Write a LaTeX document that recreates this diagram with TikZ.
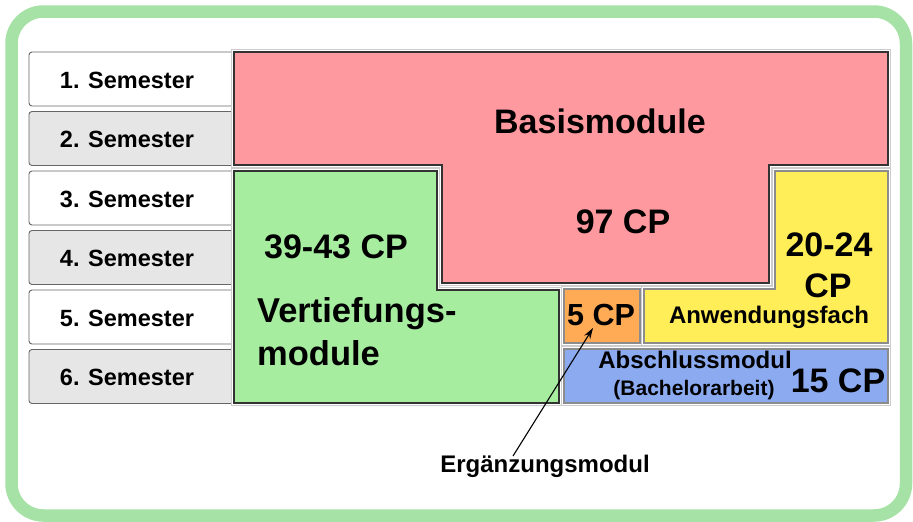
\documentclass[tikz,border=0pt]{standalone}
\usepackage{fontspec}
\setmainfont{Liberation Sans}
\usetikzlibrary{arrows.meta}
\definecolor{frameg}{RGB}{166,226,166}
\definecolor{semgray}{RGB}{230,230,230}
\definecolor{basis}{RGB}{255,153,160}
\definecolor{vert}{RGB}{166,237,160}
\definecolor{ergo}{RGB}{255,170,85}
\definecolor{anw}{RGB}{255,238,88}
\definecolor{absch}{RGB}{140,170,240}
\tikzset{
  sembox/.style={draw=black!60, line width=0.9pt, rounded corners=3pt},
  semtext/.style={font=\bfseries\fontsize{23.5}{27}\selectfont, anchor=base, inner sep=0pt},
  modbox/.style={draw=black!80, line width=1.1pt,
    preaction={draw=gray!40, line width=5.5pt},
    preaction={draw=white, line width=3.8pt}},
  lightbox/.style={modbox, draw=black!45},
  bigtext/.style={font=\bfseries\fontsize{34}{38}\selectfont, anchor=base, inner sep=0pt},
  midtext/.style={font=\bfseries\fontsize{24}{28}\selectfont, anchor=base, inner sep=0pt},
}
\begin{document}
\begin{tikzpicture}[x=1pt,y=-1pt]
\useasboundingbox (0,0) rectangle (913,522);
\draw[frameg, line width=12.5pt, rounded corners=32pt, fill=white] (11.5,11.5) rectangle (906,515.5);
% semesters
\foreach \i/\f in {1/white,2/semgray,3/white,4/semgray,5/white,6/semgray}{
  \pgfmathsetmacro{\yt}{52+(\i-1)*59.5}
  \draw[sembox, fill=\f] (29,\yt) rectangle (245,\yt+54);
  \node[semtext] (s\i) at (127,\yt+36) {\i. Semester};
}
% modules
\draw[modbox, fill=basis] (234,52) -- (888,52) -- (888,165) -- (769,165) -- (769,283) -- (442,283) -- (442,165) -- (234,165) -- cycle;
\draw[modbox, fill=vert] (234,171) -- (437,171) -- (437,290) -- (559,290) -- (559,403) -- (234,403) -- cycle;
\draw[lightbox, fill=ergo] (564,289) rectangle (640,343);
\draw[lightbox, fill=anw] (775,171) -- (888,171) -- (888,343) -- (644,343) -- (644,289) -- (775,289) -- cycle;
\draw[lightbox, fill=absch] (564,349) rectangle (888,403);
% texts
\node[bigtext] (basis) at (600,133) {Basismodule};
\node[bigtext] (basiscp) at (623,233) {97 CP};
\node[bigtext] (vertcp) at (336,258) {39-43 CP};
\node[font=\bfseries\fontsize{34.5}{38}\selectfont, anchor=base west, inner sep=0pt] (vert1) at (257,322) {Vertiefungs-};
\node[font=\bfseries\fontsize{34.5}{38}\selectfont, anchor=base west, inner sep=0pt] (vert2) at (257,365) {module};
\node[bigtext] (anwcp1) at (829,256) {20-24};
\node[bigtext] (anwcp2) at (828,297) {CP};
\node[font=\bfseries\fontsize{30.5}{34}\selectfont, anchor=base, inner sep=0pt] (ergcp) at (601,325) {5 CP};
\node[midtext] (anw) at (769,323) {Anwendungsfach};
\node[midtext] (absch1) at (695,368) {Abschlussmodul};
\node[font=\bfseries\fontsize{21}{24}\selectfont, anchor=base, inner sep=0pt] (absch2) at (694,395) {(Bachelorarbeit)};
\node[bigtext] (abschcp) at (838,392) {15 CP};
\node[midtext] (erg) at (545,472) {Ergänzungsmodul};
\coordinate (tip) at (593,328);
\draw[line width=1.1pt, -{Stealth[length=11pt,width=7pt]}] (513,456) -- (tip);
\end{tikzpicture}
\end{document}
